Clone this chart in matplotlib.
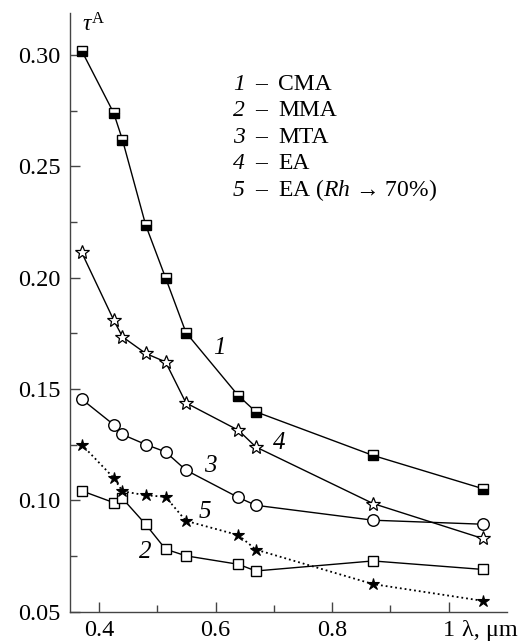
import matplotlib
matplotlib.use('Agg')
import matplotlib.pyplot as plt
from matplotlib.ticker import FixedLocator, FuncFormatter

plt.rcParams['font.family'] = 'Liberation Serif'
plt.rcParams['mathtext.fontset'] = 'custom'
plt.rcParams['mathtext.rm'] = 'Liberation Serif'
plt.rcParams['mathtext.it'] = 'Liberation Serif:italic'

# wavelengths, um
wl = [0.37, 0.425, 0.44, 0.48, 0.514, 0.549, 0.639, 0.669, 0.870, 1.058]

# aerosol optical depth per air-mass type
cma = [0.302, 0.274, 0.262, 0.2236, 0.200, 0.1754, 0.147, 0.1398, 0.1202, 0.1053]
mma = [0.1043, 0.099, 0.1009, 0.0892, 0.0781, 0.0751, 0.0713, 0.0683, 0.0728, 0.0690]
mta = [0.1455, 0.134, 0.1296, 0.1251, 0.1218, 0.1136, 0.1013, 0.0978, 0.0911, 0.0893]
ea = [0.2114, 0.181, 0.1735, 0.166, 0.1622, 0.1438, 0.1315, 0.124, 0.0986, 0.0829]
ea_rh = [0.1251, 0.1101, 0.1041, 0.1023, 0.1016, 0.0908, 0.0844, 0.0779, 0.0624, 0.0549]

legend_nums = ['1', '2', '3', '4', '5']
legend_names = ['CMA', 'MMA', 'MTA', 'EA', r'EA ($\mathit{Rh}$ → 70%)']

fig = plt.figure(figsize=(5.2, 6.41), dpi=100)
ax = fig.add_axes([0.1346, 0.0457, 0.8398, 0.9343])

lw = 1.0
ax.plot(wl, cma, '-', color='k', lw=lw, marker='s', ms=7, fillstyle='bottom',
        markerfacecolor='k', markerfacecoloralt='white', markeredgecolor='k', mew=1.0)
ax.plot(wl, mma, '-', color='k', lw=lw, marker='s', ms=6.8, markerfacecolor='white',
        markeredgecolor='k', mew=1.0)
ax.plot(wl, mta, '-', color='k', lw=lw, marker='o', ms=8.3, markerfacecolor='white',
        markeredgecolor='k', mew=1.0)
ax.plot(wl, ea, '-', color='k', lw=lw, marker='*', ms=10, markerfacecolor='white',
        markeredgecolor='k', mew=0.9)
ax.plot(wl, ea_rh, ':', color='k', lw=1.3, marker='*', ms=9, markerfacecolor='k',
        markeredgecolor='k', mew=0.8)

ax.set_xlim(0.35, 1.0995)
ax.set_ylim(0.05, 0.319)

for s in ['top', 'right']:
    ax.spines[s].set_visible(False)
for s in ['left', 'bottom']:
    ax.spines[s].set_linewidth(1.0)
    ax.spines[s].set_color('#444444')

ax.xaxis.set_major_locator(FixedLocator([0.4, 0.6, 0.8, 1.0]))
ax.xaxis.set_minor_locator(FixedLocator([0.5, 0.7, 0.9]))
ax.yaxis.set_major_locator(FixedLocator([0.05, 0.10, 0.15, 0.20, 0.25, 0.30]))
ax.yaxis.set_minor_locator(FixedLocator([0.075, 0.125, 0.175, 0.225, 0.275]))
ax.xaxis.set_major_formatter(FuncFormatter(lambda v, p: '1' if abs(v - 1) < 1e-9 else f'{v:.1f}'))
ax.yaxis.set_major_formatter(FuncFormatter(lambda v, p: f'{v:.2f}'))
ax.tick_params(which='both', direction='in', labelsize=17.5, width=1.0, color='#444444')
ax.tick_params(which='major', length=7)
ax.tick_params(which='minor', length=5)
ax.tick_params(axis='y', pad=7)
ax.tick_params(axis='x', pad=6)

ax.text(0.37, 0.3135, r'$\tau^{\rm A}$', fontsize=17, ha='left', va='center')
ax.annotate('λ, μm', xy=(1.0223, 0), xycoords=('data', 'axes fraction'),
            xytext=(0, -6), textcoords='offset points', fontsize=17.5, ha='left', va='top')

y0 = 0.2843
for i, (n, t) in enumerate(zip(legend_nums, legend_names)):
    y = y0 - i * 0.01186
    ax.text(0.6297, y, n, fontsize=17, style='italic', ha='left', va='baseline')
    ax.text(0.6775, y, '–', fontsize=17, ha='center', va='baseline', transform=ax.transData)
    ax.text(0.7069, y, t, fontsize=17, ha='left', va='baseline')

for x, y, t in [(0.607, 0.1684, '1'), (0.709, 0.1257, '4'), (0.590, 0.1154, '3'),
                (0.582, 0.0947, '5'), (0.479, 0.0767, '2')]:
    ax.text(x, y, t, fontsize=18, style='italic', ha='center', va='center')

fig.savefig('out.png', dpi=100)
